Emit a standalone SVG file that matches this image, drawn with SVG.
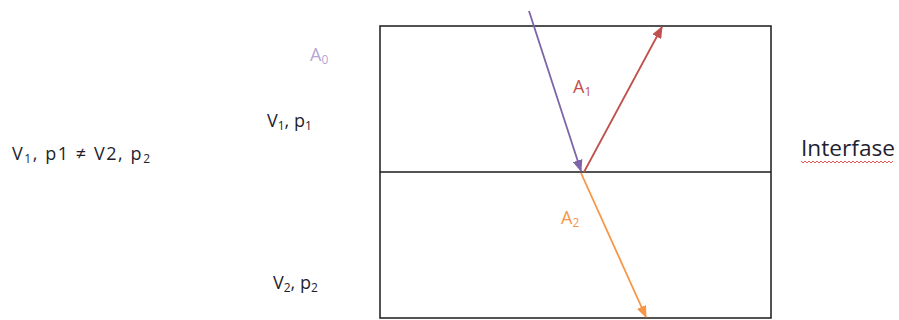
<svg xmlns="http://www.w3.org/2000/svg" width="899" height="320" viewBox="0 0 899 320">
<style>
.t{font-family:"Open Sans","Liberation Sans",sans-serif;font-size:18px;fill:#1f1f2f}
.s{font-size:12px}
.frame{fill:none;stroke:#1a1a1a;stroke-width:1.5}
</style>
<defs>
<marker id="mp" markerWidth="12" markerHeight="10" refX="11" refY="5" orient="auto" markerUnits="userSpaceOnUse"><path d="M0,0 L12,5 L0,10 Z" fill="#7f63a8"/></marker>
<marker id="mr" markerWidth="12" markerHeight="10" refX="11" refY="5" orient="auto" markerUnits="userSpaceOnUse"><path d="M0,0 L12,5 L0,10 Z" fill="#c0504d"/></marker>
<marker id="mo" markerWidth="12" markerHeight="10" refX="11" refY="5" orient="auto" markerUnits="userSpaceOnUse"><path d="M0,0 L12,5 L0,10 Z" fill="#f79646"/></marker>
</defs>
<g id="medium">
<rect class="frame" x="380" y="26" width="391" height="292"/>
<line class="frame" x1="380" y1="172" x2="771" y2="172"/>
</g>
<g id="connectors">
<line x1="529" y1="11" x2="581" y2="171" stroke="#7f63a8" stroke-width="1.8" marker-end="url(#mp)"/>
<line x1="584" y1="172" x2="662" y2="27" stroke="#c0504d" stroke-width="1.8" marker-end="url(#mr)"/>
<line x1="581" y1="173" x2="646" y2="317" stroke="#f79646" stroke-width="1.8" marker-end="url(#mo)"/>
</g>
<g id="labels">
<text class="t" x="310" y="61" style="fill:#b4a7d6">A<tspan class="s" dy="3">0</tspan></text>
<text class="t" x="573" y="93" style="fill:#c0504d">A<tspan class="s" dy="3">1</tspan></text>
<text class="t" x="561" y="224" style="fill:#f79646">A<tspan class="s" dy="3">2</tspan></text>
<text class="t" x="267" y="127">V<tspan class="s" dy="3">1</tspan><tspan dy="-3">, p</tspan><tspan class="s" dy="3">1</tspan></text>
<text class="t" x="273" y="289">V<tspan class="s" dy="3">2</tspan><tspan dy="-3">, p</tspan><tspan class="s" dy="3">2</tspan></text>
<text class="t" x="12" y="160" textLength="138">V<tspan class="s" dy="3">1</tspan><tspan dy="-3">, p1 ≠ V2, p</tspan><tspan class="s" dy="3">2</tspan></text>
<text class="t" x="801" y="156" style="font-size:21px" textLength="94" lengthAdjust="spacingAndGlyphs">Interfase</text>
<path d="M801,161 l2,2 l2,-2 l2,2 l2,-2 l2,2 l2,-2 l2,2 l2,-2 l2,2 l2,-2 l2,2 l2,-2 l2,2 l2,-2 l2,2 l2,-2 l2,2 l2,-2 l2,2 l2,-2 l2,2 l2,-2 l2,2 l2,-2 l2,2 l2,-2 l2,2 l2,-2 l2,2 l2,-2 l2,2 l2,-2 l2,2 l2,-2 l2,2 l2,-2 l2,2 l2,-2 l2,2 l2,-2 l2,2 l2,-2 l2,2 l2,-2 l2,2 l2,-2" fill="none" stroke="#e03030" stroke-width="0.8"/>
</g>
</svg>
